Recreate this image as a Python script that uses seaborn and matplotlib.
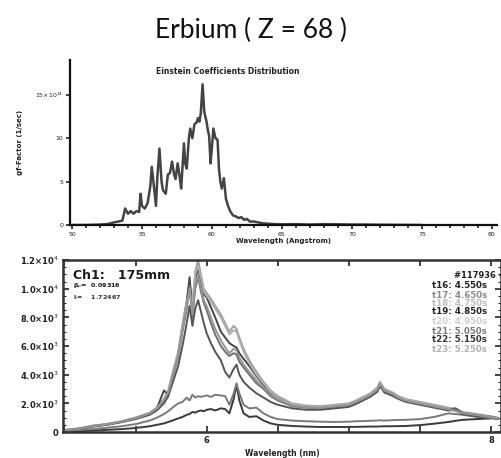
import numpy as np
import pandas as pd
import matplotlib
matplotlib.use("Agg")
import matplotlib.pyplot as plt
from matplotlib.ticker import MultipleLocator, FixedLocator, FixedFormatter
import seaborn as sns

# ---------------- data: top panel (Einstein coefficients) ----------------
top_wl = [50.0, 51.0, 52.0, 52.5, 53.0, 53.3, 53.6, 53.8, 54.0, 54.2, 54.4, 54.6, 54.8, 54.9,
          55.0, 55.2, 55.4, 55.6, 55.7, 55.85, 56.0, 56.1, 56.25, 56.4, 56.5, 56.7, 56.85,
          57.0, 57.15, 57.3, 57.4, 57.55, 57.7, 57.8, 58.0, 58.1, 58.2, 58.35, 58.45, 58.6,
          58.75, 58.9, 59.0, 59.1, 59.2, 59.33, 59.45, 59.6, 59.7, 59.8, 59.9, 60.0, 60.1,
          60.25, 60.4, 60.5, 60.6, 60.7, 60.85, 61.0, 61.15, 61.3, 61.5, 61.7, 61.9, 62.1,
          62.3, 62.5, 62.7, 63.0, 63.3, 63.6, 64.0, 64.5, 65.0, 66.0, 67.0, 68.0, 69.0, 70.0,
          71.0, 72.0, 73.0, 75.0]
top_gf = [0.0, 0.0, 0.05, 0.1, 0.3, 0.4, 0.5, 1.9, 1.3, 1.6, 1.3, 1.6, 1.5, 3.6,
          2.2, 1.9, 2.5, 4.5, 6.7, 4.5, 2.2, 5.5, 8.8, 5.0, 4.0, 3.6, 5.8,
          6.0, 7.3, 5.8, 5.3, 7.1, 5.5, 4.2, 9.4, 7.0, 6.5, 10.0, 11.1, 10.0,
          11.6, 11.8, 12.3, 11.9, 12.8, 16.2, 13.0, 12.0, 11.0, 10.2, 7.1, 9.0, 11.1,
          10.0, 9.8, 6.5, 5.0, 4.2, 5.4, 3.0, 2.2, 1.6, 1.1, 1.0, 0.8, 0.9,
          0.6, 0.7, 0.4, 0.4, 0.3, 0.2, 0.15, 0.1, 0.08, 0.1, 0.05, 0.1, 0.08, 0.05,
          0.05, 0.03, 0.02, 0.0]
top_xticks = [50, 55, 60, 65, 70, 75, 80]
top_yticks = [0, 5, 10, 15]
top_ylabels = ["0", "5", "10", "15\u00d710$^{14}$"]

# ---------------- data: bottom panel (measured spectra) ----------------
bot_wl = [5.00, 5.10, 5.20, 5.30, 5.40, 5.50, 5.60, 5.65, 5.70, 5.73, 5.76, 5.80, 5.83, 5.86,
          5.88, 5.90, 5.92, 5.94, 5.96, 5.98, 6.00, 6.03, 6.06, 6.10, 6.13, 6.16, 6.19, 6.21,
          6.23, 6.26, 6.30, 6.35, 6.40, 6.45, 6.50, 6.60, 6.70, 6.80, 6.90, 7.00, 7.05, 7.10,
          7.15, 7.20, 7.22, 7.25, 7.30, 7.35, 7.40, 7.50, 7.60, 7.70, 7.75, 7.80, 7.90, 8.00, 8.05]

t16 = [0, 50, 100, 150, 200, 280, 400, 500, 600, 700, 800, 950, 1050, 1200,
       1250, 1400, 1350, 1450, 1500, 1450, 1550, 1600, 1500, 1650, 1600, 1300, 2300, 3300,
       2200, 1300, 1050, 1100, 800, 600, 500, 420, 380, 350, 350, 350, 360, 370,
       380, 380, 390, 400, 400, 410, 420, 480, 580, 700, 780, 850, 900, 950, 950]
t17 = [50, 150, 200, 300, 400, 550, 800, 1000, 1250, 1450, 1700, 2000, 2100, 2400,
       2200, 2600, 2400, 2500, 2450, 2500, 2550, 2450, 2600, 2550, 2500, 1900, 2700, 3400,
       2700, 1900, 1650, 1700, 1300, 1050, 900, 800, 750, 720, 700, 720, 750, 760,
       780, 800, 820, 800, 820, 840, 850, 900, 1050, 1300, 1250, 1200, 1050, 1000, 950]
t18 = [150, 250, 450, 560, 750, 1000, 1350, 1700, 2300, 2900, 4100, 5600, 7500, 9200,
       10500, 8800, 11200, 12000, 11000, 10000, 9700, 9300, 8800, 8200, 7600, 7000, 7400, 7200,
       6600, 5800, 5000, 4200, 3500, 2900, 2500, 2000, 1850, 1800, 1900, 2000, 2200, 2450,
       2700, 3100, 3500, 3000, 2800, 2500, 2300, 2100, 1900, 1700, 1500, 1400, 1250, 1100, 1000]
t19 = [120, 230, 420, 540, 720, 980, 1300, 1650, 2900, 2600, 3900, 5400, 7200, 9000,
       10800, 8400, 10600, 11500, 10400, 9600, 9400, 8700, 8000, 7000, 6600, 6200, 6000, 5900,
       5500, 5100, 4600, 3900, 3300, 2700, 2400, 1900, 1750, 1700, 1800, 1900, 2100, 2350,
       2600, 3000, 3400, 2900, 2700, 2400, 2200, 2000, 1800, 1600, 1650, 1350, 1200, 1050, 950]
t20 = [140, 240, 440, 550, 740, 990, 1330, 1680, 2250, 2800, 4000, 5500, 7400, 9100,
       9800, 9000, 11000, 11600, 10800, 9800, 9500, 9100, 8600, 8000, 7400, 6800, 7100, 7000,
       6400, 5600, 4800, 4000, 3400, 2800, 2400, 1950, 1800, 1750, 1850, 1950, 2150, 2400,
       2650, 3050, 3450, 2950, 2750, 2450, 2250, 2050, 1850, 1650, 1450, 1350, 1200, 1050, 950]
t21 = [100, 220, 400, 520, 700, 950, 1280, 1600, 2200, 2700, 3800, 5200, 7000, 8600,
       10200, 8000, 10000, 10800, 9800, 9000, 8500, 7600, 6800, 6000, 5600, 5300, 5500, 5400,
       4900, 4500, 4000, 3400, 3000, 2500, 2200, 1800, 1700, 1650, 1750, 1850, 2050, 2300,
       2550, 2900, 3300, 2850, 2650, 2350, 2150, 1950, 1750, 1550, 1600, 1300, 1150, 1000, 900]
t22 = [100, 200, 380, 500, 680, 900, 1200, 1500, 2000, 2500, 3400, 4600, 6000, 7600,
       8800, 7400, 8600, 9200, 8400, 7600, 6900, 6200, 5600, 5000, 4200, 3800, 4400, 4700,
       4000, 3500, 3100, 2700, 2400, 2100, 1900, 1650, 1550, 1550, 1650, 1750, 1950, 2200,
       2450, 2800, 3200, 2750, 2550, 2300, 2100, 1900, 1700, 1500, 1550, 1250, 1100, 1000, 900]
t23 = [110, 210, 410, 530, 710, 960, 1290, 1620, 2250, 2750, 3850, 5300, 7100, 8800,
       10000, 8200, 10300, 11000, 10000, 9200, 8800, 8000, 7200, 6400, 5900, 5500, 5800, 5700,
       5200, 4700, 4200, 3600, 3100, 2600, 2300, 1850, 1720, 1680, 1780, 1880, 2080, 2320,
       2580, 2950, 3350, 2880, 2680, 2380, 2180, 1980, 1780, 1580, 1480, 1320, 1180, 1020, 920]

series_names = ["t16", "t17", "t18", "t19", "t20", "t21", "t22", "t23"]
series_vals = [t16, t17, t18, t19, t20, t21, t22, t23]
series_colors = ["#3a3a3a", "#7a7a7a", "#a0a0a0", "#454545", "#b0b0b0", "#707070", "#555555", "#959595"]
legend_labels = ["t16: 4.550s", "t17: 4.650s", "t18: 4.750s", "t19: 4.850s",
                 "t20: 4.950s", "t21: 5.050s", "t22: 5.150s", "t23: 5.250s"]
legend_colors = ["#222222", "#8a8a8a", "#bdbdbd", "#222222", "#cfcfcf", "#7a7a7a", "#333333", "#b0b0b0"]

bot_yticks = [0, 2000, 4000, 6000, 8000, 10000, 12000]
bot_ylabels = ["0", "2.0\u00d710$^3$", "4.0\u00d710$^3$", "6.0\u00d710$^3$", "8.0\u00d710$^3$",
               "1.0\u00d710$^4$", "1.2\u00d710$^4$"]
bot_xticks = [6, 8]

# ---------------- figure ----------------
sns.set_style("white")
plt.rcParams["font.family"] = ["DejaVu Sans"]

W, H = 502, 458
fig = plt.figure(figsize=(W / 100, H / 100), dpi=100)

def frac(x0, y0, x1, y1):
    return [x0 / W, 1 - y1 / H, (x1 - x0) / W, (y1 - y0) / H]

fig.text(251 / W, 1 - 30 / H, "Erbium ( Z = 68 )", ha="center", va="center",
         fontsize=19, family=["Lato", "DejaVu Sans"], color="#111111")

# top axes
ax1 = fig.add_axes(frac(70, 60, 497, 225))
df_top = pd.DataFrame({"wl": top_wl, "gf": top_gf})
sns.lineplot(data=df_top, x="wl", y="gf", ax=ax1, color="#444444", linewidth=1.8)
ax1.set_xlim(49.86, 80.36)
ax1.set_ylim(0, 19)
for s in ["top", "right"]:
    ax1.spines[s].set_visible(False)
for s in ["left", "bottom"]:
    ax1.spines[s].set_linewidth(1.6)
    ax1.spines[s].set_color("#111111")
ax1.set_xticks(top_xticks)
ax1.set_xticklabels([str(v) for v in top_xticks])
ax1.xaxis.set_minor_locator(MultipleLocator(1))
ax1.set_yticks(top_yticks)
ax1.set_yticklabels(top_ylabels)
ax1.tick_params(axis="both", which="major", length=3, width=1.2, direction="out",
                labelsize=4.5, pad=2, colors="#222222", left=True, bottom=True)
ax1.tick_params(axis="x", which="minor", length=2, width=1.2, direction="out", bottom=True)
ax1.set_xlabel("Wavelength (Angstrom)", fontsize=5, fontweight="bold", labelpad=1, color="#222222")
ax1.set_ylabel("gf-Factor (1/sec)", fontsize=5, fontweight="bold", labelpad=8, color="#222222")
fig.text(228 / W, 1 - 72 / H, "Einstein Coefficients Distribution", ha="center", va="center",
         fontsize=5.5, fontweight="bold", color="#222222")

# bottom axes
ax2 = fig.add_axes(frac(63, 260, 501, 432))
rows = []
for name, vals in zip(series_names, series_vals):
    for w, v in zip(bot_wl, vals):
        rows.append({"wl": w, "counts": v, "series": name})
df_bot = pd.DataFrame(rows)
sns.lineplot(data=df_bot, x="wl", y="counts", hue="series", palette=series_colors,
             ax=ax2, linewidth=1.4, legend=False)
ax2.set_xlim(4.99, 8.07)
ax2.set_ylim(0, 12000)
for s in ax2.spines.values():
    s.set_linewidth(1.8)
    s.set_color("#333333")
ax2.set_yticks(bot_yticks)
ax2.set_yticklabels(bot_ylabels)
ax2.yaxis.set_minor_locator(MultipleLocator(500))
ax2.xaxis.set_major_locator(FixedLocator([5.0, 5.5, 6.0, 6.5, 7.0, 7.5, 8.0]))
ax2.xaxis.set_major_formatter(FixedFormatter(["", "", "6", "", "", "", "8"]))
ax2.tick_params(axis="both", which="major", direction="in", length=4, width=1.2,
                labelsize=6, pad=3, top=True, right=True, left=True, bottom=True, colors="#222222")
ax2.tick_params(axis="y", which="minor", direction="in", length=2, width=0.8, left=True, right=True)
for lab in ax2.get_xticklabels() + ax2.get_yticklabels():
    lab.set_fontweight("bold")
ax2.set_xlabel("Wavelength (nm)", fontsize=5.5, fontweight="bold", labelpad=3, color="#222222")
ax2.set_ylabel("")

ax2.text(0.022, 0.912, "Ch1:   175mm", transform=ax2.transAxes, fontsize=9,
         fontweight="bold", color="#1a1a1a", ha="left", va="center")
ax2.text(0.022, 0.842, "\u03b2$_p$=  0.09316", transform=ax2.transAxes, fontsize=4.6,
         fontweight="bold", color="#1a1a1a", ha="left", va="center")
ax2.text(0.022, 0.782, "l$_i$=    1.72467", transform=ax2.transAxes, fontsize=4.6,
         fontweight="bold", color="#333333", ha="left", va="center")

fig.text(502 / W, 1 - 275 / H, "#117936 -", ha="right", va="center", fontsize=6,
         fontweight="bold", color="#222222")
leg_y = [285, 295, 304, 312, 322, 332, 340, 350]
for lab, col, yy in zip(legend_labels, legend_colors, leg_y):
    fig.text(432 / W, 1 - yy / H, lab, ha="left", va="center", fontsize=6.2,
             fontweight="bold", color=col)

fig.savefig("out.png", dpi=100)
